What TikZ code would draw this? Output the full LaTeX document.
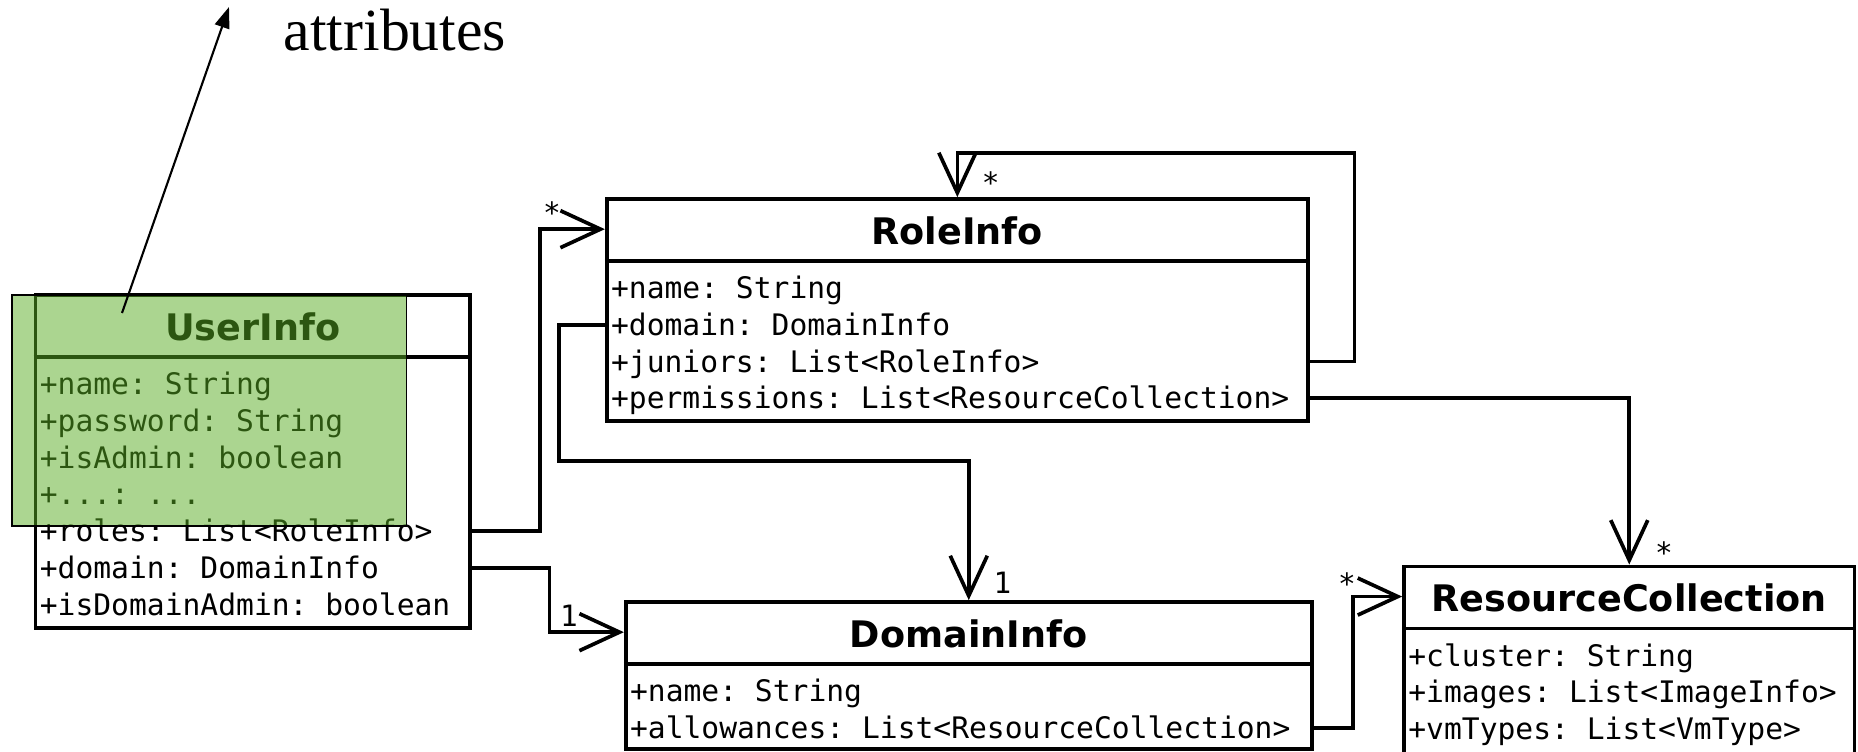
\documentclass[tikz,border=0pt]{standalone}
\usepackage{fontspec}
\setmainfont{Liberation Serif}
\setmonofont{DejaVu Sans Mono}
\newfontfamily\umlsans{DejaVu Sans}
\usetikzlibrary{arrows.meta,fit,calc}

\definecolor{veilgreen}{RGB}{89,173,35}

\tikzset{
  classbox/.style={draw, line width=1.05pt, inner sep=0pt, fill=white},
  headline/.style={line width=1.05pt},
  classtitle/.style={font=\umlsans\bfseries\fontsize{10.4}{12}\selectfont, inner sep=0pt, anchor=base},
  attr/.style={font=\ttfamily\fontsize{8.43}{10}\selectfont, inner sep=0pt, anchor=base west,
               text height=8pt, text depth=2pt},
  mult/.style={font=\ttfamily\fontsize{8.35}{10}\selectfont, inner sep=0pt, anchor=base},
  assoc/.style={line width=1.05pt, -{Straight Barb[length=0.4cm, width=0.37cm]}},
  greenveil/.style={draw=black, line width=0.45pt, fill=veilgreen, fill opacity=0.5, inner sep=0pt},
  pointer/.style={line width=0.6pt, -{Triangle[length=0.21cm, width=0.15cm]}},
  notelabel/.style={font=\fontsize{17}{20}\selectfont, inner sep=0pt, anchor=base west},
}

\begin{document}
\begin{tikzpicture}[x=0.01cm, y=-0.01cm]
\useasboundingbox (0,0) rectangle (1858,752);

% ---------- UserInfo ----------
\node[classbox, fit={(35.5,295) (470,628)}] (ui) {};
\coordinate (ui-head) at ([yshift=-0.32cm]ui.north);
\draw[headline] ([yshift=-0.64cm]ui.north west) -- ([yshift=-0.64cm]ui.north east);
\node[classtitle] (ui-t) at ([yshift=-0.15cm]ui-head) {UserInfo};
\node[attr] (ui-r1) at ([xshift=0.055cm, yshift=-1.015cm]ui.north west) {+name: String};
\node[attr] (ui-r2) at ([xshift=0.055cm, yshift=-1.382cm]ui.north west) {+password: String};
\node[attr] (ui-r3) at ([xshift=0.055cm, yshift=-1.749cm]ui.north west) {+isAdmin: boolean};
\node[attr] (ui-r4) at ([xshift=0.055cm, yshift=-2.116cm]ui.north west) {+...: ...};
\node[attr] (ui-r5) at ([xshift=0.055cm, yshift=-2.483cm]ui.north west) {+roles: List<RoleInfo>};
\node[attr] (ui-r6) at ([xshift=0.055cm, yshift=-2.850cm]ui.north west) {+domain: DomainInfo};
\node[attr] (ui-r7) at ([xshift=0.055cm, yshift=-3.217cm]ui.north west) {+isDomainAdmin: boolean};

% ---------- RoleInfo ----------
\node[classbox, fit={(606.7,199) (1308,421)}] (ri) {};
\coordinate (ri-head) at ([yshift=-0.32cm]ri.north);
\draw[headline] ([yshift=-0.64cm]ri.north west) -- ([yshift=-0.64cm]ri.north east);
\node[classtitle] (ri-t) at ([yshift=-0.15cm]ri-head) {RoleInfo};
\node[attr] (ri-r1) at ([xshift=0.055cm, yshift=-1.015cm]ri.north west) {+name: String};
\node[attr] (ri-r2) at ([xshift=0.055cm, yshift=-1.382cm]ri.north west) {+domain: DomainInfo};
\node[attr] (ri-r3) at ([xshift=0.055cm, yshift=-1.749cm]ri.north west) {+juniors: List<RoleInfo>};
\node[attr] (ri-r4) at ([xshift=0.055cm, yshift=-2.116cm]ri.north west) {+permissions: List<ResourceCollection>};

% ---------- DomainInfo ----------
\node[classbox, fit={(625.7,602) (1311.8,749)}] (di) {};
\coordinate (di-head) at ([yshift=-0.32cm]di.north);
\draw[headline] ([yshift=-0.64cm]di.north west) -- ([yshift=-0.64cm]di.north east);
\node[classtitle] (di-t) at ([yshift=-0.15cm]di-head) {DomainInfo};
\node[attr] (di-r1) at ([xshift=0.055cm, yshift=-1.015cm]di.north west) {+name: String};
\node[attr] (di-r2) at ([xshift=0.055cm, yshift=-1.382cm]di.north west) {+allowances: List<ResourceCollection>};

% ---------- ResourceCollection ----------
\node[classbox, fit={(1404,566.4) (1854.5,755)}] (rc) {};
\coordinate (rc-head) at ([yshift=-0.32cm]rc.north);
\draw[headline] ([yshift=-0.64cm]rc.north west) -- ([yshift=-0.64cm]rc.north east);
\node[classtitle] (rc-t) at ([yshift=-0.15cm]rc-head) {ResourceCollection};
\node[attr] (rc-r1) at ([xshift=0.055cm, yshift=-1.015cm]rc.north west) {+cluster: String};
\node[attr] (rc-r2) at ([xshift=0.055cm, yshift=-1.382cm]rc.north west) {+images: List<ImageInfo>};
\node[attr] (rc-r3) at ([xshift=0.055cm, yshift=-1.749cm]rc.north west) {+vmTypes: List<VmType>};

% ---------- associations ----------
\draw[assoc] (ui.east |- ui-r5) -- ++(68,0) |- (ri.west |- ri-head);
\draw[assoc] (ui.east |- ui-r6) -- ++(77.5,0) |- (di.west |- di-head);
\draw[assoc] (ri.west |- ri-r2) -- ++(-46,0) -- ++(0,136.3) -| (di.north);
\coordinate (jloop) at (1354.5,153);
\draw[assoc] (ri.east |- ri-r3) -| (jloop) -| (ri.north);
\draw[assoc] (ri.east |- ri-r4) -| (rc.north);
\draw[assoc] (di.east |- di-r2) -- ++(39,0) |- (rc.west |- rc-head);

% multiplicities
\node[mult] (m-roles)  at (552,224)    {*};
\node[mult] (m-udom)   at (569,626.7)  {1};
\node[mult] (m-rdom)   at (1002.5,593.7) {1};
\node[mult] (m-jun)    at (990.7,193.7) {*};
\node[mult] (m-perm)   at (1664,563.5) {*};
\node[mult] (m-allow)  at (1347,594)   {*};

% ---------- highlighted attribute block ----------
\node[greenveil, fit={(12,295) (406.5,526)}] (veil) {};

% ---------- callout ----------
\coordinate (ptrtail) at (122,313);
\coordinate (ptrtip) at (229,7);
\draw[pointer] (ptrtail) -- (ptrtip);
\node[notelabel] (note) at (283,51) {attributes};
\end{tikzpicture}
\end{document}
